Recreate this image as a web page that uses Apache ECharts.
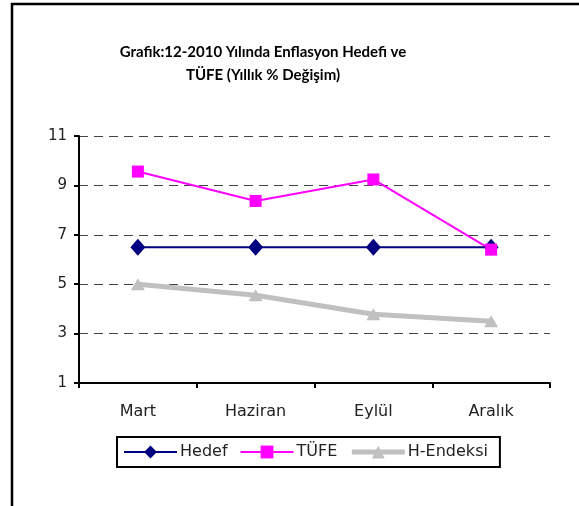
<!DOCTYPE html>
<html>
<head>
<meta charset="utf-8">
<script src="https://cdn.jsdelivr.net/npm/echarts@6/dist/echarts.min.js"></script>
<style>
  html, body { margin: 0; padding: 0; background: #fff; }
  #chart { width: 579px; height: 506px; }
</style>
</head>
<body>
<div id="chart"></div>
<script>
const categories = ['Mart', 'Haziran', 'Eylül', 'Aralık'];
const hedef = [6.5, 6.5, 6.5, 6.5];
const tufe = [9.56, 8.37, 9.24, 6.4];
const hEndeksi = [5.0, 4.55, 3.78, 3.5];
const yTicks = [1, 3, 5, 7, 9, 11];

const font = 'DejaVu Sans';
const chart = echarts.init(document.getElementById('chart'));

const option = {
  backgroundColor: '#fff',
  animation: false,
  graphic: [
    {
      type: 'rect',
      shape: { x: 12, y: 4, width: 620, height: 560 },
      style: { fill: 'none', stroke: '#000', lineWidth: 2.5 }
    },
    {
      type: 'text',
      x: 263, y: 41,
      style: {
        text: 'Grafik:12-2010 Yılında Enflasyon Hedefi ve\nTÜFE (Yıllık % Değişim)',
        fill: '#000', font: 'bold 15px "Lato"', align: 'center', textAlign: 'center', lineHeight: 23
      }
    }
  ],
  grid: { left: 79, top: 136, right: 29, bottom: 123 },
  legend: {
    left: 117, top: 437,
    itemWidth: 53, itemHeight: 16, itemGap: 12,
    padding: [7, 12, 7, 6],
    borderColor: '#000', borderWidth: 2,
    textStyle: { fontFamily: font, fontSize: 16, color: '#222', padding: [0, 0, 0, -2] },
    data: [
      { name: 'Hedef', lineStyle: { width: 2 } },
      { name: 'TÜFE', lineStyle: { width: 2 } },
      { name: 'H-Endeksi', lineStyle: { width: 5 } }
    ]
  },
  xAxis: {
    type: 'category',
    data: categories,
    boundaryGap: true,
    axisLine: { lineStyle: { color: '#000', width: 2 } },
    axisTick: { show: true, length: 5, lineStyle: { color: '#000', width: 2 } },
    axisLabel: { fontFamily: font, fontSize: 16, color: '#222', margin: 21 }
  },
  yAxis: {
    type: 'value',
    min: 1, max: 11, interval: 2,
    axisLine: { show: true, lineStyle: { color: '#000', width: 2 } },
    axisTick: { show: true, length: 5, lineStyle: { color: '#000', width: 2 } },
    axisLabel: {
      fontFamily: font, fontSize: 15, color: '#222', margin: 12,
      formatter: v => yTicks.includes(v) ? String(v) : ''
    },
    splitLine: { lineStyle: { color: '#444', type: [9, 6], width: 1 } }
  },
  series: [
    {
      name: 'Hedef', type: 'line', data: hedef,
      symbol: 'diamond', symbolSize: [15, 17],
      lineStyle: { color: '#000080', width: 2 },
      itemStyle: { color: '#000080' }
    },
    {
      name: 'TÜFE', type: 'line', data: tufe,
      symbol: 'rect', symbolSize: 12,
      lineStyle: { color: '#ff00ff', width: 2 },
      itemStyle: { color: '#ff00ff' }
    },
    {
      name: 'H-Endeksi', type: 'line', data: hEndeksi,
      symbol: 'triangle', symbolSize: [14, 12],
      lineStyle: { color: '#c0c0c0', width: 5 },
      itemStyle: { color: '#c0c0c0' },
      z: 1
    }
  ]
};

chart.setOption(option);
</script>
</body>
</html>
